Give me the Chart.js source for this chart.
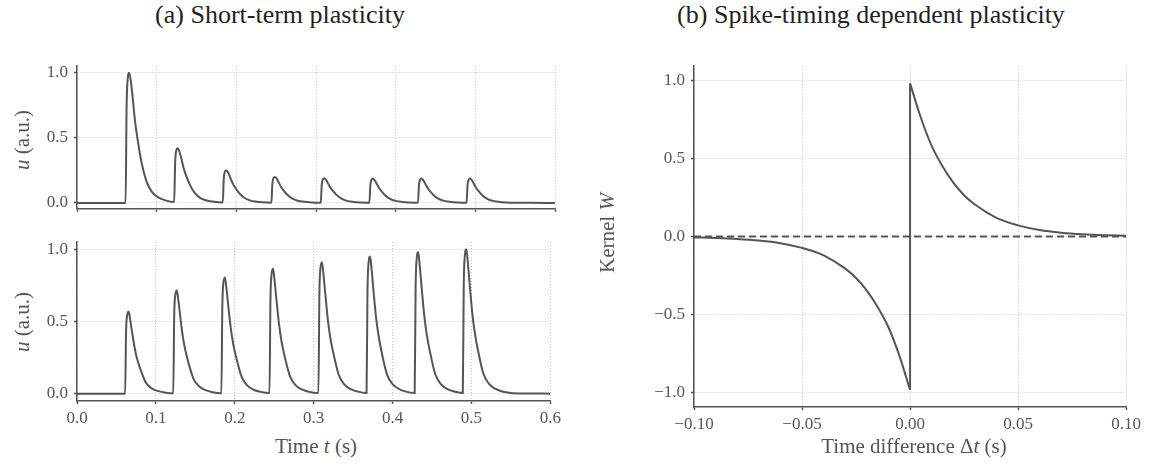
<!DOCTYPE html>
<html>
<head>
<meta charset="utf-8">
<script src="https://cdn.jsdelivr.net/npm/chart.js@4/dist/chart.umd.min.js"></script>
<style>
  body { margin: 0; background: #fff; width: 1155px; height: 465px; position: relative; overflow: hidden;
         font-family: 'Liberation Serif', serif; }
  .box { position: absolute; }
  .title { position: absolute; font-size: 26px; line-height: 30px; color: #222; white-space: nowrap; transform: translateX(-50%); }
  .xlab { position: absolute; font-size: 21px; line-height: 24px; color: #555; white-space: nowrap; transform: translateX(-50%); }
  .ylab { position: absolute; font-size: 21px; line-height: 24px; color: #555; white-space: nowrap;
          transform: translate(-50%, -50%) rotate(-90deg); }
</style>
</head>
<body>
<div class="title" style="left:280px; top:0px;">(a) Short-term plasticity</div>
<div class="title" style="left:871px; top:0px;">(b) Spike-timing dependent plasticity</div>

<div class="box" style="left:0; top:50px;"><canvas id="stpTop" width="565" height="175"></canvas></div>
<div class="box" style="left:0; top:225px;"><canvas id="stpBottom" width="565" height="200"></canvas></div>
<div class="box" style="left:580px; top:50px;"><canvas id="stdpChart" width="565" height="385"></canvas></div>

<div class="ylab" style="left:22px; top:140px;"><i>u</i> (a.u.)</div>
<div class="ylab" style="left:22px; top:322px;"><i>u</i> (a.u.)</div>
<div class="ylab" style="left:607px; top:233px;">Kernel <i>W</i></div>
<div class="xlab" style="left:316px; top:434px;">Time <i>t</i> (s)</div>
<div class="xlab" style="left:914px; top:434px;">Time difference Δ<i>t</i> (s)</div>

<script>
// tick labels
const timeTicks = [0, 0.1, 0.2, 0.3, 0.4, 0.5, 0.6];
const uTicks = [0, 0.5, 1.0];
const dtTicks = [-0.1, -0.05, 0, 0.05, 0.1];
const wTicks = [-1.0, -0.5, 0, 0.5, 1.0];

// sample times shared by both short-term panels (s), one row per presynaptic spike
const spikeTime = [
  0,
  0.061, 0.0622, 0.0635, 0.0655, 0.0675, 0.070, 0.073, 0.076, 0.081, 0.087, 0.094, 0.102, 0.111, 0.1215,
  0.122, 0.1232, 0.1245, 0.1265, 0.1285, 0.131, 0.134, 0.137, 0.142, 0.148, 0.155, 0.163, 0.172, 0.1825,
  0.183, 0.1842, 0.1855, 0.1875, 0.1895, 0.192, 0.195, 0.198, 0.203, 0.209, 0.216, 0.224, 0.233, 0.2435,
  0.244, 0.2452, 0.2465, 0.2485, 0.2505, 0.253, 0.256, 0.259, 0.264, 0.270, 0.277, 0.285, 0.294, 0.3045,
  0.306, 0.3072, 0.3085, 0.3105, 0.3125, 0.315, 0.318, 0.321, 0.326, 0.332, 0.339, 0.347, 0.356, 0.3665,
  0.367, 0.3682, 0.3695, 0.3715, 0.3735, 0.376, 0.379, 0.382, 0.387, 0.393, 0.400, 0.408, 0.417, 0.4275,
  0.428, 0.4292, 0.4305, 0.4325, 0.4345, 0.437, 0.440, 0.443, 0.448, 0.454, 0.461, 0.469, 0.478, 0.4885,
  0.489, 0.4902, 0.4915, 0.4935, 0.4955, 0.498, 0.501, 0.504, 0.509, 0.515, 0.522, 0.530, 0.539, 0.5495,
  0.57, 0.6
];

// depressing synapse (top)
const uDepressing = [
  0,
  0, 0.72, 0.94, 1.0, 0.94, 0.80, 0.62, 0.49, 0.31, 0.17, 0.085, 0.043, 0.02, 0.008,
  0.008, 0.31, 0.40, 0.42, 0.395, 0.34, 0.265, 0.21, 0.135, 0.075, 0.037, 0.019, 0.009, 0.004,
  0.004, 0.185, 0.237, 0.25, 0.235, 0.20, 0.156, 0.124, 0.079, 0.044, 0.022, 0.011, 0.005, 0.002,
  0.002, 0.145, 0.19, 0.20, 0.188, 0.16, 0.125, 0.099, 0.063, 0.035, 0.017, 0.009, 0.004, 0.002,
  0.002, 0.138, 0.18, 0.19, 0.179, 0.152, 0.118, 0.094, 0.06, 0.033, 0.016, 0.008, 0.004, 0.002,
  0.002, 0.135, 0.176, 0.187, 0.176, 0.15, 0.116, 0.092, 0.058, 0.032, 0.016, 0.008, 0.004, 0.002,
  0.002, 0.135, 0.176, 0.187, 0.176, 0.15, 0.116, 0.092, 0.058, 0.032, 0.016, 0.008, 0.004, 0.002,
  0.002, 0.135, 0.176, 0.187, 0.176, 0.15, 0.116, 0.092, 0.058, 0.032, 0.016, 0.008, 0.004, 0.002,
  0.001, 0
];

// facilitating synapse (bottom)
const uFacilitating = [
  0,
  0, 0.43, 0.54, 0.57, 0.51, 0.42, 0.32, 0.245, 0.16, 0.08, 0.04, 0.02, 0.009, 0.003,
  0.003, 0.54, 0.68, 0.715, 0.645, 0.53, 0.40, 0.31, 0.20, 0.10, 0.05, 0.025, 0.011, 0.004,
  0.004, 0.60, 0.765, 0.805, 0.725, 0.595, 0.45, 0.345, 0.225, 0.113, 0.056, 0.028, 0.013, 0.005,
  0.005, 0.65, 0.82, 0.865, 0.78, 0.64, 0.485, 0.37, 0.24, 0.12, 0.06, 0.03, 0.014, 0.005,
  0.005, 0.68, 0.865, 0.91, 0.82, 0.675, 0.51, 0.39, 0.255, 0.127, 0.064, 0.032, 0.015, 0.005,
  0.005, 0.71, 0.90, 0.95, 0.855, 0.70, 0.53, 0.41, 0.265, 0.133, 0.067, 0.033, 0.015, 0.006,
  0.006, 0.735, 0.93, 0.98, 0.88, 0.725, 0.55, 0.42, 0.275, 0.137, 0.069, 0.034, 0.016, 0.006,
  0.006, 0.75, 0.95, 1.0, 0.90, 0.74, 0.56, 0.43, 0.28, 0.14, 0.07, 0.035, 0.016, 0.006,
  0.002, 0.001
];

// STDP kernel, depression branch (dt < 0) and potentiation branch (dt > 0)
const ltdDt = [-0.1, -0.09, -0.08, -0.07, -0.06, -0.05, -0.04, -0.03, -0.025, -0.02, -0.015, -0.01, -0.005, 0];
const ltdW  = [-0.005, -0.009, -0.015, -0.025, -0.042, -0.072, -0.12, -0.205, -0.265, -0.345, -0.45, -0.58, -0.76, -0.98];
const ltpDt = [0, 0.005, 0.01, 0.015, 0.02, 0.025, 0.03, 0.04, 0.05, 0.06, 0.07, 0.08, 0.09, 0.1];
const ltpW  = [0.98, 0.76, 0.58, 0.45, 0.345, 0.265, 0.205, 0.12, 0.072, 0.042, 0.025, 0.015, 0.009, 0.005];

const LINE = '#555555';
const GRID = '#c4c4c4';
const TICKTXT = '#555555';
const tickFont = { family: "'Liberation Serif', serif", size: 17 };

const toPoints = (xs, ys) => xs.map((x, i) => ({ x: x, y: ys[i] }));
const fmt = (digits) => (v) => Number(v).toFixed(digits).replace('-', '\u2212');

function axis(opts) {
  return {
    type: 'linear',
    min: opts.min,
    max: opts.max,
    afterBuildTicks: s => { s.ticks = opts.ticks.map(v => ({ value: v })); },
    afterFit: s => { if (opts.width !== undefined) s.width = opts.width; if (opts.height !== undefined) s.height = opts.height; },
    border: { display: true, color: LINE, width: 1.5, dash: [1, 2] },
    grid: { color: GRID, lineWidth: 1, tickLength: 3, tickColor: LINE, tickWidth: 1.5 },
    ticks: {
      display: opts.labels !== false,
      color: TICKTXT,
      font: tickFont,
      padding: opts.padding || 4,
      maxRotation: 0,
      callback: fmt(opts.digits)
    }
  };
}

function lineSet(points, extra) {
  return Object.assign({
    data: points,
    borderColor: LINE,
    borderWidth: 2,
    pointRadius: 0,
    fill: false,
    cubicInterpolationMode: 'monotone'
  }, extra || {});
}

const baseOptions = {
  responsive: false,
  animation: false,
  devicePixelRatio: 1,
  plugins: { legend: { display: false }, tooltip: { enabled: false } },
  layout: { padding: { top: 8, right: 10, left: 0, bottom: 0 } }
};

new Chart(document.getElementById('stpTop'), {
  type: 'line',
  data: { datasets: [lineSet(toPoints(spikeTime, uDepressing))] },
  options: Object.assign({}, baseOptions, {
    scales: {
      x: axis({ min: 0, max: 0.6, ticks: timeTicks, digits: 1, labels: false, height: 7 }),
      y: axis({ min: -0.045, max: 1.05, ticks: uTicks, digits: 1, width: 77, padding: 6 })
    }
  })
});

new Chart(document.getElementById('stpBottom'), {
  type: 'line',
  data: { datasets: [lineSet(toPoints(spikeTime, uFacilitating))] },
  options: Object.assign({}, baseOptions, {
    layout: { padding: { top: 17, right: 10, left: 0, bottom: 0 } },
    scales: {
      x: axis({ min: 0, max: 0.6, ticks: timeTicks, digits: 1, height: 24 }),
      y: axis({ min: -0.05, max: 1.05, ticks: uTicks, digits: 1, width: 77, padding: 6 })
    }
  })
});

const ltd = toPoints(ltdDt, ltdW);
const ltp = toPoints(ltpDt, ltpW);
new Chart(document.getElementById('stdpChart'), {
  type: 'line',
  data: {
    datasets: [
      lineSet([{ x: dtTicks[0], y: 0 }, { x: dtTicks[dtTicks.length - 1], y: 0 }],
              { borderDash: [7, 4], cubicInterpolationMode: 'default', tension: 0 }),
      lineSet(ltd),
      lineSet([ltd[ltd.length - 1], ltp[0]], { cubicInterpolationMode: 'default', tension: 0 }),
      lineSet(ltp)
    ]
  },
  options: Object.assign({}, baseOptions, {
    layout: { padding: { top: 8, right: 12, left: 0, bottom: 0 } },
    scales: {
      x: axis({ min: -0.1, max: 0.1, ticks: dtTicks, digits: 2, height: 28 }),
      y: axis({ min: -1.09, max: 1.09, ticks: wTicks, digits: 1, width: 114, padding: 6 })
    }
  })
});
</script>
</body>
</html>
